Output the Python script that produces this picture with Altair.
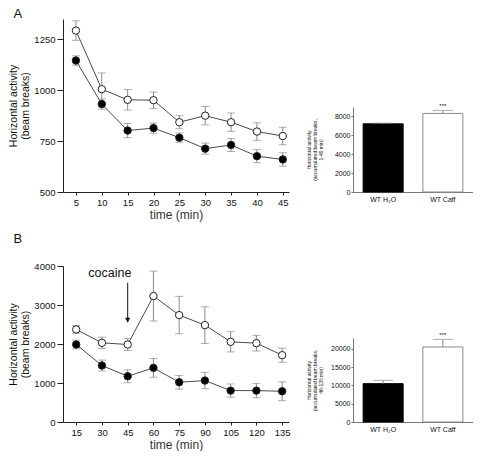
import altair as alt
import pandas as pd

# ---------------- data ----------------
# Panel A: 5-min bins, 0-45 min (caffeine vs water)
time_a = [5, 10, 15, 20, 25, 30, 35, 40, 45]
caff_a_mean = [1293, 1005, 953, 951, 843, 875, 843, 797, 775]
caff_a_sem = [48, 80, 50, 40, 32, 45, 45, 43, 43]
h2o_a_mean = [1146, 932, 802, 814, 767, 713, 731, 676, 660]
h2o_a_sem = [23, 25, 35, 25, 23, 27, 32, 32, 33]

# Panel B: 15-min bins, cocaine at 45 min
time_b = [15, 30, 45, 60, 75, 90, 105, 120, 135]
caff_b_mean = [2373, 2030, 1987, 3229, 2741, 2484, 2056, 2021, 1713]
caff_b_sem = [100, 145, 155, 640, 480, 470, 260, 200, 180]
h2o_b_mean = [1987, 1448, 1173, 1388, 1019, 1062, 805, 805, 788]
h2o_b_sem = [110, 140, 165, 240, 175, 210, 170, 180, 240]

# accumulated totals (bar insets)
groups = ["WT H\u2082O", "WT Caff"]
total_a_mean = [7215, 8317]
total_a_sem = [80, 320]
total_b_mean = [10500, 20540]
total_b_sem = [900, 2090]
stars = ["", "***"]

# cocaine annotation (data coordinates of panel B)
coc_label_time = [34.6]
coc_label_y = [3830]
coc_arrow_time = [45]
coc_arrow_top = [3570]
coc_arrow_tip = [2560]

FONT = "Liberation Sans"
AXC = "#222222"
ERR = "#8a8a8a"


def line_df(t, cm, cs, hm, hs):
    return pd.DataFrame({
        "time": t + t,
        "mean": cm + hm,
        "lo": [m - s for m, s in zip(cm, cs)] + [m - s for m, s in zip(hm, hs)],
        "hi": [m + s for m, s in zip(cm, cs)] + [m + s for m, s in zip(hm, hs)],
        "group": ["Caff"] * len(t) + ["H2O"] * len(t),
    })


def line_panel(df, xdom, xticks, ydom, yticks, height, letter, toffset, extra=None):
    xs = alt.Scale(domain=xdom, nice=False, zero=False)
    ys = alt.Scale(domain=ydom, nice=False, zero=False)
    xax = alt.Axis(values=xticks, title="time (min)", grid=False, tickSize=3, format="d",
                   labelFontSize=9.5, labelPadding=2, titleFontSize=12,
                   titleFontWeight="normal", titlePadding=3,
                   domainColor=AXC, tickColor=AXC, labelColor="#111", titleColor="#333")
    yax = alt.Axis(values=yticks, title=["Horizontal activity", "(beam breaks)"], format="d",
                   grid=False, tickSize=6, labelFontSize=9.5, labelPadding=2,
                   titleFontSize=10.5, titleLineHeight=11.5, titleFontWeight="normal",
                   titlePadding=3, minExtent=30, maxExtent=30,
                   domainColor=AXC, tickColor=AXC, labelColor="#111", titleColor="#111")

    def X():
        return alt.X("time:Q", scale=xs, axis=xax)

    def Y(f):
        return alt.Y(f + ":Q", scale=ys, axis=yax)

    base = alt.Chart(df)
    lines = base.mark_line(color="#4a4a4a", strokeWidth=1).encode(
        x=X(), y=Y("mean"), detail="group:N")
    err = base.mark_rule(color=ERR, strokeWidth=1).encode(
        x=X(), y=Y("lo"), y2="hi:Q")
    cap_lo = base.mark_tick(color=ERR, size=8, thickness=1, orient="horizontal").encode(
        x=X(), y=Y("lo"))
    cap_hi = base.mark_tick(color=ERR, size=8, thickness=1, orient="horizontal").encode(
        x=X(), y=Y("hi"))
    pts = base.mark_point(filled=True, size=55, opacity=1, strokeWidth=1).encode(
        x=X(), y=Y("mean"),
        fill=alt.Fill("group:N", scale=alt.Scale(domain=["H2O", "Caff"], range=["black", "white"]), legend=None),
        stroke=alt.value("#222222"))
    layers = [lines, err, cap_lo, cap_hi, pts]
    if extra is not None:
        layers += extra(X, Y)
    return alt.layer(*layers).properties(
        width=226, height=height,
        title=alt.TitleParams(letter, anchor="start", frame="bounds", offset=toffset, dx=5,
                              fontSize=13, fontWeight="normal", font=FONT, color="#111"))


def cocaine_layers(X, Y):
    lab = alt.Chart(pd.DataFrame({"time": coc_label_time, "y": coc_label_y, "t": ["cocaine"]})).mark_text(
        fontSize=12.5, font=FONT, color="#111").encode(x=X(), y=Y("y"), text="t:N")
    adf = pd.DataFrame({"time": coc_arrow_time, "top": coc_arrow_top, "tip": coc_arrow_tip})
    shaft = alt.Chart(adf).mark_rule(color="#111", strokeWidth=1).encode(x=X(), y=Y("top"), y2="tip:Q")
    head = alt.Chart(adf).mark_point(shape="triangle-down", filled=True, size=28, color="#111",
                                     opacity=1, yOffset=-2).encode(x=X(), y=Y("tip"))
    return [shaft, head, lab]


def bar_panel(means, sems, ydom, yticks, title_lines, height):
    df = pd.DataFrame({"group": groups, "mean": means,
                       "top": [m + s for m, s in zip(means, sems)], "stars": stars})
    xs = alt.Scale(domain=groups, paddingInner=0.33, paddingOuter=0.17)
    xax = alt.Axis(title=None, labelAngle=0, labelFontSize=7, ticks=False, labelPadding=3,
                   domainColor="#777", labelColor="#111")
    ys = alt.Scale(domain=ydom, nice=False, zero=True)
    yax = alt.Axis(values=yticks, title=title_lines, grid=False, tickSize=2, labelFontSize=7,
                   labelPadding=1, titleFontSize=5, titleLineHeight=6, titleFontWeight="normal",
                   titlePadding=8, minExtent=22, maxExtent=22, domainColor="#777", format="d",
                   tickColor="#777", labelColor="#111", titleColor="#111")

    def X():
        return alt.X("group:N", scale=xs, axis=xax, sort=groups)

    def Y(f):
        return alt.Y(f + ":Q", scale=ys, axis=yax)

    base = alt.Chart(df)
    bars = base.mark_bar(strokeWidth=1).encode(
        x=X(), y=Y("mean"),
        fill=alt.Fill("group:N", scale=alt.Scale(domain=groups, range=["black", "white"]), legend=None),
        stroke=alt.Stroke("group:N", scale=alt.Scale(domain=groups, range=["black", "#8a8a8a"]), legend=None))
    err = base.mark_rule(color=ERR, strokeWidth=1).encode(x=X(), y=Y("mean"), y2="top:Q")
    cap = base.mark_tick(color=ERR, size=20, thickness=1).encode(x=X(), y=Y("top"))
    txt = base.mark_text(baseline="bottom", dy=-1, fontSize=6, font=FONT, color="#111").encode(
        x=X(), y=Y("top"), text="stars:N")
    return alt.layer(bars, err, cap, txt).properties(width=120, height=height)


def spacer(h):
    return alt.Chart(pd.DataFrame({"v": [0]})).mark_rule(opacity=0, strokeWidth=0).encode(
        x=alt.value(0), y=alt.value(0), y2=alt.value(h)).properties(width=1, height=h)


df_a = line_df(time_a, caff_a_mean, caff_a_sem, h2o_a_mean, h2o_a_sem)
df_b = line_df(time_b, caff_b_mean, caff_b_sem, h2o_b_mean, h2o_b_sem)

a_line = line_panel(df_a, [2.5, 46.2], time_a, [500, 1350], [500, 750, 1000, 1250], 173, "A", -2)
b_line = line_panel(df_b, [7.3, 139], time_b, [0, 4000], [0, 1000, 2000, 3000, 4000], 156, "B", 15.5,
                    extra=cocaine_layers)

a_bar = bar_panel(total_a_mean, total_a_sem, [0, 9000], [0, 2000, 4000, 6000, 8000],
                  ["Horizontal activity", "(accumulated beam breaks,", "1-45 min)"], 85)
b_bar = bar_panel(total_b_mean, total_b_sem, [0, 23000], [0, 5000, 10000, 15000, 20000],
                  ["Horizontal activity", "(accumulated beam breaks,", "46-135 min)"], 84)

left = alt.vconcat(a_line, b_line, spacing=11)
right = alt.vconcat(spacer(84), a_bar, spacer(130), b_bar, spacing=0)

chart = alt.hconcat(left, right, spacing=15).properties(padding=0).configure(
    font=FONT).configure_view(stroke=None).configure_axis(
    labelFont=FONT, titleFont=FONT, titleFontWeight="normal")

chart.save("out.html", embed_options={"renderer": "svg", "actions": False})
